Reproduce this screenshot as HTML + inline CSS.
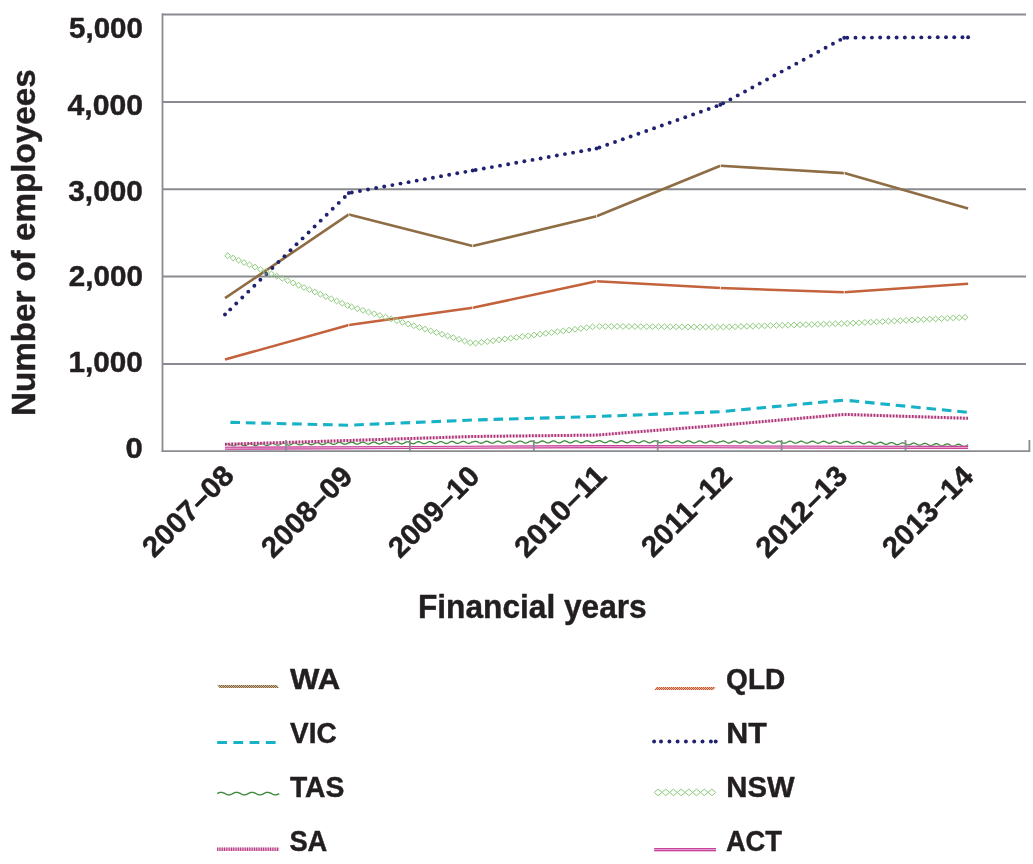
<!DOCTYPE html>
<html><head><meta charset="utf-8"><title>Employees chart</title>
<style>html,body{margin:0;padding:0;background:#fff;} svg{display:block;}</style>
</head><body>
<svg width="1033" height="864" viewBox="0 0 1033 864">
<rect width="1033" height="864" fill="#fff"/>
<defs><pattern id="pWA" patternUnits="userSpaceOnUse" width="2" height="2"><rect width="2" height="2" fill="#cdb899"/><rect width="1" height="1" fill="#85643b"/><rect x="1" y="1" width="1" height="1" fill="#85643b"/></pattern><pattern id="pQLD" patternUnits="userSpaceOnUse" width="2" height="2"><rect width="2" height="2" fill="#eab59c"/><rect width="1" height="1" fill="#c2582f"/><rect x="1" y="1" width="1" height="1" fill="#c2582f"/></pattern></defs>
<line x1="162.5" y1="14.5" x2="1026" y2="14.5" stroke="#8a8b90" stroke-width="1.9"/>
<line x1="162.5" y1="102.0" x2="1026" y2="102.0" stroke="#8a8b90" stroke-width="1.9"/>
<line x1="162.5" y1="189.2" x2="1026" y2="189.2" stroke="#8a8b90" stroke-width="1.9"/>
<line x1="162.5" y1="276.5" x2="1026" y2="276.5" stroke="#8a8b90" stroke-width="1.9"/>
<line x1="162.5" y1="364.0" x2="1026" y2="364.0" stroke="#8a8b90" stroke-width="1.9"/>
<line x1="225.00" y1="298.20" x2="348.85" y2="214.40" stroke="#8e6c44" stroke-width="2.6" stroke-linecap="butt"/><line x1="348.85" y1="214.40" x2="472.70" y2="246.10" stroke="#8e6c44" stroke-width="2.6" stroke-linecap="butt"/><line x1="472.70" y1="246.10" x2="596.55" y2="216.20" stroke="#8e6c44" stroke-width="2.6" stroke-linecap="butt"/><line x1="596.55" y1="216.20" x2="720.40" y2="165.80" stroke="#8e6c44" stroke-width="2.6" stroke-linecap="butt"/><line x1="720.40" y1="165.80" x2="844.25" y2="173.10" stroke="#8e6c44" stroke-width="2.6" stroke-linecap="butt"/><line x1="844.25" y1="173.10" x2="968.10" y2="208.60" stroke="#8e6c44" stroke-width="2.6" stroke-linecap="butt"/><line x1="348.40" y1="212.40" x2="349.30" y2="216.40" stroke="#fff" stroke-width="0.7"/><line x1="472.25" y1="244.10" x2="473.15" y2="248.10" stroke="#fff" stroke-width="0.7"/><line x1="596.10" y1="214.20" x2="597.00" y2="218.20" stroke="#fff" stroke-width="0.7"/><line x1="719.95" y1="163.80" x2="720.85" y2="167.80" stroke="#fff" stroke-width="0.7"/><line x1="843.80" y1="171.10" x2="844.70" y2="175.10" stroke="#fff" stroke-width="0.7"/>
<line x1="225.00" y1="359.60" x2="348.85" y2="325.00" stroke="#c4623c" stroke-width="2.6" stroke-linecap="butt"/><line x1="348.85" y1="325.00" x2="472.70" y2="307.80" stroke="#c4623c" stroke-width="2.6" stroke-linecap="butt"/><line x1="472.70" y1="307.80" x2="596.55" y2="281.30" stroke="#c4623c" stroke-width="2.6" stroke-linecap="butt"/><line x1="596.55" y1="281.30" x2="720.40" y2="288.00" stroke="#c4623c" stroke-width="2.6" stroke-linecap="butt"/><line x1="720.40" y1="288.00" x2="844.25" y2="292.30" stroke="#c4623c" stroke-width="2.6" stroke-linecap="butt"/><line x1="844.25" y1="292.30" x2="968.10" y2="283.70" stroke="#c4623c" stroke-width="2.6" stroke-linecap="butt"/><line x1="349.30" y1="323.00" x2="348.40" y2="327.00" stroke="#fff" stroke-width="0.7"/><line x1="473.15" y1="305.80" x2="472.25" y2="309.80" stroke="#fff" stroke-width="0.7"/><line x1="597.00" y1="279.30" x2="596.10" y2="283.30" stroke="#fff" stroke-width="0.7"/><line x1="720.85" y1="286.00" x2="719.95" y2="290.00" stroke="#fff" stroke-width="0.7"/><line x1="844.70" y1="290.30" x2="843.80" y2="294.30" stroke="#fff" stroke-width="0.7"/>
<polyline points="225.00,422.20 348.85,425.20" fill="none" stroke="#17b2c6" stroke-width="3.1" stroke-dasharray="9.6 5.85" stroke-dashoffset="10.05" stroke-linejoin="round"/><polyline points="348.85,425.20 472.70,420.00" fill="none" stroke="#17b2c6" stroke-width="3.1" stroke-dasharray="9.6 5.85" stroke-dashoffset="10.05" stroke-linejoin="round"/><polyline points="472.70,420.00 596.55,416.50" fill="none" stroke="#17b2c6" stroke-width="3.1" stroke-dasharray="9.6 5.85" stroke-dashoffset="10.05" stroke-linejoin="round"/><polyline points="596.55,416.50 720.40,411.70" fill="none" stroke="#17b2c6" stroke-width="3.1" stroke-dasharray="9.6 5.85" stroke-dashoffset="10.05" stroke-linejoin="round"/><polyline points="720.40,411.70 844.25,400.10" fill="none" stroke="#17b2c6" stroke-width="3.1" stroke-dasharray="9.6 5.85" stroke-dashoffset="10.05" stroke-linejoin="round"/><polyline points="844.25,400.10 968.10,412.40" fill="none" stroke="#17b2c6" stroke-width="3.1" stroke-dasharray="9.6 5.85" stroke-dashoffset="10.05" stroke-linejoin="round"/>
<circle cx="225.00" cy="314.50" r="1.95" fill="#1f2270"/><circle cx="230.21" cy="309.39" r="1.95" fill="#1f2270"/><circle cx="236.24" cy="303.47" r="1.95" fill="#1f2270"/><circle cx="242.27" cy="297.56" r="1.95" fill="#1f2270"/><circle cx="248.30" cy="291.64" r="1.95" fill="#1f2270"/><circle cx="254.33" cy="285.73" r="1.95" fill="#1f2270"/><circle cx="260.36" cy="279.81" r="1.95" fill="#1f2270"/><circle cx="266.39" cy="273.89" r="1.95" fill="#1f2270"/><circle cx="272.42" cy="267.98" r="1.95" fill="#1f2270"/><circle cx="278.45" cy="262.06" r="1.95" fill="#1f2270"/><circle cx="284.48" cy="256.15" r="1.95" fill="#1f2270"/><circle cx="290.51" cy="250.23" r="1.95" fill="#1f2270"/><circle cx="296.54" cy="244.32" r="1.95" fill="#1f2270"/><circle cx="302.57" cy="238.40" r="1.95" fill="#1f2270"/><circle cx="308.60" cy="232.49" r="1.95" fill="#1f2270"/><circle cx="314.63" cy="226.57" r="1.95" fill="#1f2270"/><circle cx="320.66" cy="220.65" r="1.95" fill="#1f2270"/><circle cx="326.69" cy="214.74" r="1.95" fill="#1f2270"/><circle cx="332.72" cy="208.82" r="1.95" fill="#1f2270"/><circle cx="338.75" cy="202.91" r="1.95" fill="#1f2270"/><circle cx="344.78" cy="196.99" r="1.95" fill="#1f2270"/><circle cx="348.85" cy="193.00" r="1.95" fill="#1f2270"/><circle cx="351.81" cy="192.46" r="1.95" fill="#1f2270"/><circle cx="359.92" cy="190.99" r="1.95" fill="#1f2270"/><circle cx="368.03" cy="189.52" r="1.95" fill="#1f2270"/><circle cx="376.14" cy="188.04" r="1.95" fill="#1f2270"/><circle cx="384.25" cy="186.57" r="1.95" fill="#1f2270"/><circle cx="392.36" cy="185.09" r="1.95" fill="#1f2270"/><circle cx="400.48" cy="183.62" r="1.95" fill="#1f2270"/><circle cx="408.59" cy="182.15" r="1.95" fill="#1f2270"/><circle cx="416.70" cy="180.67" r="1.95" fill="#1f2270"/><circle cx="424.81" cy="179.20" r="1.95" fill="#1f2270"/><circle cx="432.92" cy="177.73" r="1.95" fill="#1f2270"/><circle cx="441.03" cy="176.25" r="1.95" fill="#1f2270"/><circle cx="449.15" cy="174.78" r="1.95" fill="#1f2270"/><circle cx="457.26" cy="173.31" r="1.95" fill="#1f2270"/><circle cx="465.37" cy="171.83" r="1.95" fill="#1f2270"/><circle cx="472.70" cy="170.50" r="1.95" fill="#1f2270"/><circle cx="475.66" cy="169.97" r="1.95" fill="#1f2270"/><circle cx="483.78" cy="168.53" r="1.95" fill="#1f2270"/><circle cx="491.89" cy="167.09" r="1.95" fill="#1f2270"/><circle cx="500.01" cy="165.65" r="1.95" fill="#1f2270"/><circle cx="508.13" cy="164.21" r="1.95" fill="#1f2270"/><circle cx="516.24" cy="162.77" r="1.95" fill="#1f2270"/><circle cx="524.36" cy="161.32" r="1.95" fill="#1f2270"/><circle cx="532.48" cy="159.88" r="1.95" fill="#1f2270"/><circle cx="540.59" cy="158.44" r="1.95" fill="#1f2270"/><circle cx="548.71" cy="157.00" r="1.95" fill="#1f2270"/><circle cx="556.83" cy="155.56" r="1.95" fill="#1f2270"/><circle cx="564.94" cy="154.11" r="1.95" fill="#1f2270"/><circle cx="573.06" cy="152.67" r="1.95" fill="#1f2270"/><circle cx="581.18" cy="151.23" r="1.95" fill="#1f2270"/><circle cx="589.29" cy="149.79" r="1.95" fill="#1f2270"/><circle cx="596.55" cy="148.50" r="1.95" fill="#1f2270"/><circle cx="599.40" cy="147.50" r="1.95" fill="#1f2270"/><circle cx="607.20" cy="144.74" r="1.95" fill="#1f2270"/><circle cx="615.01" cy="141.99" r="1.95" fill="#1f2270"/><circle cx="622.82" cy="139.23" r="1.95" fill="#1f2270"/><circle cx="630.63" cy="136.48" r="1.95" fill="#1f2270"/><circle cx="638.43" cy="133.72" r="1.95" fill="#1f2270"/><circle cx="646.24" cy="130.97" r="1.95" fill="#1f2270"/><circle cx="654.05" cy="128.21" r="1.95" fill="#1f2270"/><circle cx="661.86" cy="125.46" r="1.95" fill="#1f2270"/><circle cx="669.67" cy="122.70" r="1.95" fill="#1f2270"/><circle cx="677.47" cy="119.95" r="1.95" fill="#1f2270"/><circle cx="685.28" cy="117.19" r="1.95" fill="#1f2270"/><circle cx="693.09" cy="114.44" r="1.95" fill="#1f2270"/><circle cx="700.90" cy="111.68" r="1.95" fill="#1f2270"/><circle cx="708.70" cy="108.93" r="1.95" fill="#1f2270"/><circle cx="716.51" cy="106.17" r="1.95" fill="#1f2270"/><circle cx="720.40" cy="104.80" r="1.95" fill="#1f2270"/><circle cx="723.07" cy="103.35" r="1.95" fill="#1f2270"/><circle cx="730.40" cy="99.38" r="1.95" fill="#1f2270"/><circle cx="737.72" cy="95.42" r="1.95" fill="#1f2270"/><circle cx="745.05" cy="91.45" r="1.95" fill="#1f2270"/><circle cx="752.37" cy="87.48" r="1.95" fill="#1f2270"/><circle cx="759.70" cy="83.51" r="1.95" fill="#1f2270"/><circle cx="767.02" cy="79.54" r="1.95" fill="#1f2270"/><circle cx="774.35" cy="75.57" r="1.95" fill="#1f2270"/><circle cx="781.67" cy="71.60" r="1.95" fill="#1f2270"/><circle cx="789.00" cy="67.64" r="1.95" fill="#1f2270"/><circle cx="796.32" cy="63.67" r="1.95" fill="#1f2270"/><circle cx="803.65" cy="59.70" r="1.95" fill="#1f2270"/><circle cx="810.97" cy="55.73" r="1.95" fill="#1f2270"/><circle cx="818.30" cy="51.76" r="1.95" fill="#1f2270"/><circle cx="825.62" cy="47.79" r="1.95" fill="#1f2270"/><circle cx="832.95" cy="43.82" r="1.95" fill="#1f2270"/><circle cx="840.27" cy="39.85" r="1.95" fill="#1f2270"/><circle cx="844.25" cy="37.70" r="1.95" fill="#1f2270"/><circle cx="847.25" cy="37.69" r="1.95" fill="#1f2270"/><circle cx="855.48" cy="37.65" r="1.95" fill="#1f2270"/><circle cx="863.71" cy="37.62" r="1.95" fill="#1f2270"/><circle cx="871.94" cy="37.59" r="1.95" fill="#1f2270"/><circle cx="880.17" cy="37.55" r="1.95" fill="#1f2270"/><circle cx="888.40" cy="37.52" r="1.95" fill="#1f2270"/><circle cx="896.63" cy="37.49" r="1.95" fill="#1f2270"/><circle cx="904.86" cy="37.46" r="1.95" fill="#1f2270"/><circle cx="913.09" cy="37.42" r="1.95" fill="#1f2270"/><circle cx="921.32" cy="37.39" r="1.95" fill="#1f2270"/><circle cx="929.55" cy="37.36" r="1.95" fill="#1f2270"/><circle cx="937.78" cy="37.32" r="1.95" fill="#1f2270"/><circle cx="946.01" cy="37.29" r="1.95" fill="#1f2270"/><circle cx="954.24" cy="37.26" r="1.95" fill="#1f2270"/><circle cx="962.47" cy="37.22" r="1.95" fill="#1f2270"/><circle cx="968.10" cy="37.20" r="1.95" fill="#1f2270"/>
<path d="M225.00,445.00L225.50,444.71L226.00,444.45L226.49,444.23L226.99,444.07L227.49,443.98L227.99,443.96L228.50,444.03L229.00,444.17L229.50,444.37L230.01,444.62L230.52,444.89L231.02,445.16L231.53,445.41L232.03,445.63L232.53,445.78L233.04,445.87L233.54,445.87L234.04,445.80L234.54,445.65L235.04,445.44L235.53,445.19L236.03,444.91L236.53,444.62L237.03,444.35L237.53,444.11L238.02,443.94L238.52,443.83L239.03,443.80L239.53,443.85L240.03,443.97L240.53,444.16L241.04,444.39L241.55,444.66L242.05,444.93L242.56,445.19L243.06,445.42L243.56,445.59L244.07,445.69L244.57,445.72L245.07,445.66L245.57,445.53L246.07,445.34L246.57,445.09L247.06,444.81L247.56,444.52L248.06,444.25L248.56,444.00L249.06,443.81L249.56,443.68L250.06,443.64L250.56,443.67L251.06,443.77L251.57,443.95L252.07,444.17L252.58,444.43L253.08,444.71L253.59,444.97L254.09,445.21L254.60,445.39L255.10,445.51L255.60,445.55L256.10,445.52L256.60,445.41L257.10,445.23L257.60,444.99L258.10,444.72L258.59,444.43L259.09,444.15L259.59,443.89L260.09,443.69L260.59,443.55L261.09,443.48L261.59,443.49L262.09,443.58L262.60,443.74L263.10,443.95L263.61,444.21L264.11,444.48L264.62,444.75L265.12,444.99L265.63,445.19L266.13,445.33L266.63,445.39L267.13,445.37L267.63,445.28L268.13,445.11L268.63,444.89L269.13,444.62L269.63,444.33L270.12,444.05L270.62,443.79L271.12,443.57L271.62,443.41L272.12,443.32L272.62,443.32L273.12,443.39L273.63,443.53L274.13,443.74L274.64,443.98L275.14,444.26L275.65,444.53L276.15,444.78L276.66,444.99L277.16,445.14L277.66,445.22L278.16,445.22L278.67,445.14L279.16,444.99L279.66,444.78L280.16,444.52L280.66,444.24L281.16,443.95L281.65,443.68L282.15,443.45L282.65,443.28L283.15,443.18L283.65,443.15L284.15,443.20L284.66,443.33L285.16,443.52L285.67,443.76L286.17,444.03L286.68,444.30L287.18,444.56L287.69,444.78L288.19,444.95L288.69,445.05L289.20,445.07L289.70,445.01L290.20,444.87L290.69,444.67L291.19,444.43L291.69,444.15L292.19,443.86L292.68,443.58L293.18,443.34L293.68,443.15L294.18,443.03L294.68,442.99L295.18,443.02L295.69,443.13L296.19,443.31L296.70,443.54L297.20,443.80L297.71,444.08L298.21,444.34L298.72,444.57L299.22,444.75L299.72,444.87L300.23,444.91L300.73,444.87L301.23,444.75L301.73,444.56L302.22,444.33L302.72,444.05L303.22,443.76L303.72,443.48L304.21,443.23L304.71,443.03L305.21,442.89L305.71,442.83L306.22,442.84L306.72,442.94L307.22,443.10L307.73,443.32L308.23,443.58L308.74,443.85L309.24,444.12L309.75,444.36L310.25,444.55L310.76,444.69L311.26,444.74L311.76,444.72L312.26,444.62L312.76,444.45L313.26,444.22L313.75,443.96L314.25,443.67L314.75,443.38L315.25,443.12L315.75,442.91L316.24,442.75L316.74,442.67L317.25,442.67L317.75,442.75L318.25,442.90L318.76,443.10L319.26,443.35L319.77,443.62L320.27,443.90L320.78,444.14L321.28,444.35L321.79,444.50L322.29,444.57L322.79,444.57L323.29,444.49L323.79,444.33L324.29,444.12L324.79,443.86L325.28,443.57L325.78,443.29L326.28,443.02L326.78,442.79L327.28,442.62L327.78,442.52L328.28,442.50L328.78,442.56L329.28,442.69L329.79,442.89L330.29,443.13L330.80,443.40L331.30,443.67L331.81,443.93L332.31,444.15L332.82,444.31L333.32,444.40L333.82,444.42L334.32,444.35L334.82,444.21L335.32,444.01L335.82,443.76L336.32,443.48L336.81,443.19L337.31,442.92L337.81,442.68L338.31,442.49L338.81,442.38L339.31,442.34L339.81,442.38L340.31,442.49L340.82,442.68L341.32,442.91L341.83,443.17L342.33,443.45L342.84,443.71L343.34,443.94L343.85,444.11L344.35,444.22L344.85,444.26L345.35,444.21L345.85,444.09L346.35,443.90L346.85,443.66L347.35,443.39L347.85,443.10L348.34,442.82L348.84,442.57M348.85,443.20L349.35,442.92L349.85,442.66L350.35,442.44L350.85,442.28L351.35,442.19L351.85,442.19L352.35,442.26L352.86,442.40L353.36,442.60L353.86,442.85L354.37,443.13L354.87,443.40L355.37,443.66L355.88,443.88L356.38,444.04L356.88,444.12L357.38,444.13L357.88,444.07L358.38,443.92L358.88,443.72L359.38,443.47L359.88,443.19L360.38,442.90L360.88,442.63L361.38,442.41L361.88,442.23L362.38,442.13L362.88,442.10L363.38,442.15L363.89,442.28L364.39,442.47L364.89,442.71L365.40,442.98L365.90,443.26L366.40,443.52L366.91,443.75L367.41,443.92L367.91,444.03L368.41,444.06L368.91,444.01L369.41,443.88L369.91,443.69L370.41,443.45L370.91,443.17L371.41,442.89L371.91,442.61L372.41,442.37L372.91,442.19L373.41,442.06L373.91,442.02L374.42,442.05L374.92,442.16L375.42,442.34L375.92,442.57L376.43,442.83L376.93,443.11L377.43,443.38L377.94,443.62L378.44,443.81L378.94,443.93L379.44,443.98L379.94,443.95L380.45,443.84L380.95,443.66L381.45,443.43L381.94,443.16L382.44,442.87L382.94,442.60L383.44,442.35L383.94,442.14L384.44,442.00L384.94,441.94L385.45,441.96L385.95,442.05L386.45,442.21L386.95,442.43L387.46,442.69L387.96,442.96L388.46,443.24L388.97,443.48L389.47,443.69L389.97,443.83L390.47,443.89L390.98,443.88L391.48,443.79L391.98,443.63L392.48,443.41L392.98,443.14L393.48,442.86L393.98,442.58L394.47,442.32L394.97,442.10L395.48,441.95L395.98,441.87L396.48,441.86L396.98,441.94L397.48,442.09L397.98,442.29L398.49,442.54L398.99,442.82L399.50,443.09L400.00,443.35L400.50,443.56L401.00,443.72L401.51,443.80L402.01,443.81L402.51,443.74L403.01,443.59L403.51,443.38L404.01,443.13L404.51,442.85L405.01,442.56L405.51,442.30L406.01,442.07L406.51,441.90L407.01,441.80L407.51,441.78L408.01,441.83L408.51,441.96L409.02,442.16L409.52,442.40L410.02,442.67L410.53,442.95L411.03,443.21L411.53,443.44L412.03,443.61L412.54,443.71L413.04,443.73L413.54,443.68L414.04,443.55L414.54,443.35L415.04,443.11L415.54,442.83L416.04,442.55L416.54,442.28L417.04,442.04L417.54,441.85L418.04,441.74L418.54,441.69L419.04,441.73L419.54,441.85L420.05,442.03L420.55,442.26L421.05,442.52L421.56,442.80L422.06,443.07L422.56,443.31L423.07,443.49L423.57,443.61L424.07,443.65L424.57,443.62L425.07,443.50L425.57,443.32L426.07,443.09L426.57,442.82L427.07,442.53L427.57,442.26L428.07,442.01L428.57,441.81L429.07,441.68L429.57,441.62L430.07,441.63L430.57,441.73L431.08,441.90L431.58,442.12L432.08,442.38L432.59,442.66L433.09,442.93L433.59,443.17L434.10,443.37L434.60,443.51L435.10,443.57L435.60,443.55L436.10,443.46L436.60,443.29L437.10,443.07L437.60,442.80L438.10,442.52L438.60,442.24L439.10,441.98L439.60,441.77L440.10,441.62L440.60,441.54L441.10,441.54L441.61,441.62L442.11,441.77L442.61,441.98L443.11,442.23L443.62,442.51L444.12,442.78L444.62,443.04L445.13,443.25L445.63,443.40L446.13,443.48L446.63,443.48L447.13,443.41L447.63,443.26L448.13,443.04L448.63,442.79L449.13,442.51L449.63,442.22L450.13,441.96L450.63,441.73L451.13,441.57L451.63,441.47L452.13,441.45L452.64,441.51L453.14,441.65L453.64,441.85L454.15,442.09L454.65,442.36L455.15,442.64L455.66,442.90L456.16,443.12L456.66,443.29L457.16,443.39L457.66,443.41L458.17,443.35L458.67,443.22L459.17,443.02L459.67,442.77L460.17,442.49L460.66,442.21L461.16,441.94L461.66,441.70L462.16,441.52L462.66,441.41L463.17,441.37L463.67,441.41L464.17,441.53L464.67,441.71L465.18,441.95L465.68,442.22L466.18,442.49L466.69,442.76L467.19,442.99L467.69,443.17L468.19,443.29L468.70,443.33L469.20,443.29L469.70,443.17L470.20,442.99L470.70,442.75L471.20,442.48L471.70,442.19L472.20,441.92L472.70,441.67M472.70,442.30L473.20,442.02L473.70,441.76L474.20,441.54L474.70,441.39L475.20,441.30L475.70,441.29L476.21,441.36L476.71,441.51L477.21,441.71L477.71,441.96L478.22,442.24L478.72,442.52L479.22,442.78L479.72,442.99L480.23,443.15L480.73,443.24L481.23,443.25L481.73,443.19L482.23,443.05L482.73,442.84L483.23,442.59L483.73,442.31L484.23,442.03L484.73,441.76L485.23,441.54L485.73,441.36L486.23,441.26L486.73,441.23L487.24,441.29L487.74,441.41L488.24,441.61L488.74,441.85L489.25,442.12L489.75,442.40L490.25,442.66L490.75,442.89L491.26,443.07L491.76,443.17L492.26,443.20L492.76,443.16L493.26,443.03L493.76,442.84L494.26,442.60L494.76,442.33L495.26,442.04L495.76,441.77L496.26,441.53L496.76,441.34L497.26,441.22L497.77,441.18L498.27,441.21L498.77,441.32L499.27,441.50L499.77,441.73L500.28,442.00L500.78,442.28L501.28,442.55L501.79,442.79L502.29,442.98L502.79,443.10L503.29,443.15L503.79,443.12L504.29,443.01L504.79,442.84L505.29,442.61L505.79,442.34L506.29,442.06L506.79,441.78L507.29,441.53L507.80,441.33L508.30,441.19L508.80,441.13L509.30,441.14L509.80,441.24L510.30,441.40L510.81,441.62L511.31,441.88L511.81,442.16L512.31,442.43L512.82,442.68L513.32,442.88L513.82,443.02L514.32,443.09L514.82,443.08L515.32,442.99L515.83,442.83L516.33,442.61L516.83,442.35L517.33,442.07L517.83,441.79L518.33,441.53L518.83,441.32L519.33,441.16L519.83,441.08L520.33,441.08L520.83,441.15L521.33,441.30L521.84,441.51L522.34,441.76L522.84,442.04L523.34,442.32L523.85,442.57L524.35,442.79L524.85,442.94L525.35,443.03L525.86,443.04L526.36,442.97L526.86,442.82L527.36,442.61L527.86,442.36L528.36,442.08L528.86,441.80L529.36,441.53L529.86,441.31L530.36,441.14L530.86,441.04L531.36,441.02L531.86,441.08L532.36,441.21L532.87,441.40L533.37,441.65L533.87,441.92L534.38,442.20L534.88,442.46L535.38,442.69L535.88,442.86L536.38,442.96L536.89,442.99L537.39,442.94L537.89,442.81L538.39,442.61L538.89,442.37L539.39,442.10L539.89,441.81L540.39,441.54L540.89,441.30L541.39,441.12L541.89,441.00L542.39,440.96L542.89,441.00L543.40,441.12L543.90,441.30L544.40,441.53L544.90,441.80L545.41,442.08L545.91,442.35L546.41,442.58L546.91,442.77L547.42,442.89L547.92,442.94L548.42,442.90L548.92,442.79L549.42,442.61L549.92,442.38L550.42,442.11L550.92,441.82L551.42,441.55L551.92,441.30L552.42,441.10L552.92,440.97L553.42,440.91L553.92,440.93L554.43,441.03L554.93,441.20L555.43,441.42L555.93,441.68L556.44,441.96L556.94,442.23L557.44,442.48L557.94,442.68L558.45,442.81L558.95,442.88L559.45,442.86L559.95,442.77L560.45,442.60L560.95,442.38L561.45,442.12L561.95,441.84L562.45,441.56L562.95,441.30L563.45,441.09L563.95,440.94L564.45,440.86L564.96,440.86L565.46,440.94L565.96,441.10L566.46,441.31L566.97,441.56L567.47,441.84L567.97,442.11L568.47,442.37L568.98,442.58L569.48,442.73L569.98,442.82L570.48,442.82L570.98,442.74L571.48,442.60L571.98,442.39L572.48,442.13L572.98,441.85L573.48,441.57L573.98,441.31L574.48,441.08L574.98,440.92L575.49,440.82L575.99,440.80L576.49,440.86L576.99,441.00L577.49,441.20L578.00,441.44L578.50,441.72L579.00,442.00L579.50,442.26L580.01,442.48L580.51,442.65L581.01,442.75L581.51,442.77L582.01,442.71L582.51,442.58L583.01,442.39L583.51,442.14L584.02,441.86L584.52,441.58L585.02,441.31L585.52,441.08L586.02,440.90L586.52,440.78L587.02,440.75L587.52,440.79L588.02,440.91L588.52,441.09L589.03,441.33L589.53,441.60L590.03,441.88L590.54,442.14L591.04,442.38L591.54,442.56L592.04,442.68L592.54,442.72L593.04,442.68L593.55,442.57L594.05,442.38L594.55,442.15L595.05,441.88L595.55,441.59L596.05,441.32L596.55,441.07M596.55,441.70L597.05,441.42L597.55,441.17L598.06,440.95L598.56,440.80L599.06,440.72L599.56,440.72L600.06,440.79L600.56,440.94L601.06,441.15L601.56,441.40L602.07,441.68L602.57,441.96L603.07,442.22L603.57,442.44L604.07,442.61L604.57,442.70L605.07,442.72L605.57,442.65L606.08,442.52L606.58,442.32L607.08,442.07L607.58,441.79L608.08,441.51L608.59,441.25L609.09,441.03L609.59,440.86L610.09,440.76L610.59,440.74L611.09,440.79L611.59,440.92L612.10,441.12L612.60,441.37L613.10,441.64L613.60,441.92L614.10,442.19L614.60,442.42L615.10,442.60L615.60,442.71L616.10,442.75L616.60,442.70L617.11,442.58L617.61,442.39L618.11,442.16L618.61,441.89L619.11,441.61L619.62,441.34L620.12,441.10L620.62,440.92L621.12,440.80L621.62,440.76L622.12,440.80L622.63,440.91L623.13,441.10L623.63,441.33L624.13,441.60L624.63,441.88L625.13,442.16L625.63,442.40L626.13,442.59L626.63,442.72L627.13,442.77L627.64,442.75L628.14,442.64L628.64,442.47L629.14,442.24L629.64,441.98L630.15,441.70L630.65,441.43L631.15,441.18L631.65,440.98L632.15,440.85L632.65,440.79L633.16,440.81L633.66,440.91L634.16,441.07L634.66,441.30L635.16,441.56L635.66,441.84L636.16,442.12L636.66,442.37L637.16,442.58L637.66,442.72L638.17,442.79L638.67,442.79L639.17,442.70L639.67,442.54L640.17,442.33L640.67,442.07L641.18,441.79L641.68,441.52L642.18,441.26L642.68,441.05L643.18,440.90L643.69,440.82L644.19,440.83L644.69,440.90L645.19,441.06L645.69,441.27L646.19,441.52L646.69,441.80L647.19,442.08L647.69,442.34L648.19,442.56L648.70,442.72L649.20,442.81L649.70,442.82L650.20,442.76L650.70,442.61L651.20,442.41L651.71,442.16L652.21,441.89L652.71,441.61L653.21,441.35L653.71,441.12L654.22,440.96L654.72,440.86L655.22,440.84L655.72,440.91L656.22,441.04L656.72,441.24L657.22,441.49L657.72,441.76L658.22,442.05L658.72,442.31L659.23,442.54L659.73,442.72L660.23,442.82L660.73,442.85L661.23,442.81L661.73,442.68L662.23,442.49L662.74,442.25L663.24,441.98L663.74,441.70L664.24,441.43L664.74,441.20L665.25,441.02L665.75,440.91L666.25,440.87L666.75,440.91L667.25,441.03L667.75,441.21L668.25,441.45L668.75,441.72L669.26,442.01L669.76,442.28L670.26,442.52L670.76,442.71L671.26,442.83L671.76,442.88L672.26,442.85L672.76,442.74L673.27,442.57L673.77,442.34L674.27,442.07L674.77,441.79L675.27,441.52L675.78,441.28L676.28,441.08L676.78,440.95L677.28,440.90L677.78,440.92L678.28,441.02L678.78,441.19L679.28,441.42L679.79,441.68L680.29,441.97L680.79,442.24L681.29,442.49L681.79,442.70L682.29,442.84L682.79,442.90L683.29,442.89L683.79,442.80L684.30,442.64L684.80,442.42L685.30,442.17L685.80,441.89L686.30,441.61L686.81,441.36L687.31,441.15L687.81,441.00L688.31,440.93L688.81,440.94L689.31,441.02L689.82,441.17L690.32,441.39L690.82,441.65L691.32,441.93L691.82,442.21L692.32,442.46L692.82,442.68L693.32,442.84L693.82,442.92L694.32,442.93L694.83,442.86L695.33,442.71L695.83,442.51L696.33,442.26L696.83,441.98L697.34,441.70L697.84,441.44L698.34,441.22L698.84,441.06L699.34,440.97L699.84,440.95L700.35,441.02L700.85,441.16L701.35,441.36L701.85,441.61L702.35,441.89L702.85,442.17L703.35,442.43L703.85,442.66L704.35,442.83L704.85,442.94L705.36,442.96L705.86,442.91L706.36,442.78L706.86,442.59L707.36,442.35L707.86,442.07L708.37,441.79L708.87,441.53L709.37,441.30L709.87,441.12L710.37,441.01L710.88,440.98L711.38,441.02L711.88,441.15L712.38,441.33L712.88,441.57L713.38,441.85L713.88,442.13L714.38,442.40L714.88,442.64L715.38,442.83L715.88,442.95L716.39,442.99L716.89,442.96L717.39,442.84L717.89,442.67L718.39,442.43L718.90,442.17L719.40,441.89L719.90,441.62L720.40,441.37M720.40,442.00L720.90,441.72L721.40,441.47L721.91,441.25L722.41,441.10L722.91,441.02L723.41,441.02L723.91,441.09L724.41,441.24L724.91,441.45L725.41,441.70L725.92,441.98L726.42,442.26L726.92,442.52L727.42,442.74L727.92,442.91L728.42,443.00L728.92,443.02L729.42,442.95L729.93,442.82L730.43,442.62L730.93,442.37L731.43,442.09L731.93,441.81L732.44,441.55L732.94,441.33L733.44,441.16L733.94,441.06L734.44,441.04L734.94,441.09L735.44,441.22L735.95,441.42L736.45,441.67L736.95,441.94L737.45,442.22L737.95,442.49L738.45,442.72L738.95,442.90L739.45,443.01L739.95,443.05L740.45,443.00L740.96,442.88L741.46,442.69L741.96,442.46L742.46,442.19L742.96,441.91L743.47,441.64L743.97,441.40L744.47,441.22L744.97,441.10L745.47,441.06L745.97,441.10L746.48,441.21L746.98,441.40L747.48,441.63L747.98,441.90L748.48,442.18L748.98,442.46L749.48,442.70L749.98,442.89L750.48,443.02L750.98,443.07L751.49,443.05L751.99,442.94L752.49,442.77L752.99,442.54L753.49,442.28L754.00,442.00L754.50,441.73L755.00,441.48L755.50,441.28L756.00,441.15L756.50,441.09L757.01,441.11L757.51,441.21L758.01,441.37L758.51,441.60L759.01,441.86L759.51,442.14L760.01,442.42L760.51,442.67L761.01,442.88L761.51,443.02L762.02,443.09L762.52,443.09L763.02,443.00L763.52,442.84L764.02,442.63L764.52,442.37L765.03,442.09L765.53,441.82L766.03,441.56L766.53,441.35L767.03,441.20L767.54,441.12L768.04,441.13L768.54,441.20L769.04,441.36L769.54,441.57L770.04,441.82L770.54,442.10L771.04,442.38L771.54,442.64L772.04,442.86L772.55,443.02L773.05,443.11L773.55,443.12L774.05,443.06L774.55,442.91L775.05,442.71L775.56,442.46L776.06,442.19L776.56,441.91L777.06,441.65L777.56,441.42L778.07,441.26L778.57,441.16L779.07,441.14L779.57,441.21L780.07,441.34L780.57,441.54L781.07,441.79L781.57,442.06L782.07,442.35L782.57,442.61L783.08,442.84L783.58,443.02L784.08,443.12L784.58,443.15L785.08,443.11L785.58,442.98L786.08,442.79L786.59,442.55L787.09,442.28L787.59,442.00L788.09,441.73L788.59,441.50L789.10,441.32L789.60,441.21L790.10,441.17L790.60,441.21L791.10,441.33L791.60,441.51L792.10,441.75L792.60,442.02L793.11,442.31L793.61,442.58L794.11,442.82L794.61,443.01L795.11,443.13L795.61,443.18L796.11,443.15L796.61,443.04L797.12,442.87L797.62,442.64L798.12,442.37L798.62,442.09L799.12,441.82L799.63,441.58L800.13,441.38L800.63,441.25L801.13,441.20L801.63,441.22L802.13,441.32L802.63,441.49L803.13,441.72L803.64,441.98L804.14,442.27L804.64,442.54L805.14,442.79L805.64,443.00L806.14,443.14L806.64,443.20L807.14,443.19L807.64,443.10L808.15,442.94L808.65,442.72L809.15,442.47L809.65,442.19L810.15,441.91L810.66,441.66L811.16,441.45L811.66,441.30L812.16,441.23L812.66,441.24L813.16,441.32L813.67,441.47L814.17,441.69L814.67,441.95L815.17,442.23L815.67,442.51L816.17,442.76L816.67,442.98L817.17,443.14L817.67,443.22L818.17,443.23L818.68,443.16L819.18,443.01L819.68,442.81L820.18,442.56L820.68,442.28L821.19,442.00L821.69,441.74L822.19,441.52L822.69,441.36L823.19,441.27L823.69,441.25L824.20,441.32L824.70,441.46L825.20,441.66L825.70,441.91L826.20,442.19L826.70,442.47L827.20,442.73L827.70,442.96L828.20,443.13L828.70,443.24L829.21,443.26L829.71,443.21L830.21,443.08L830.71,442.89L831.21,442.65L831.71,442.37L832.22,442.09L832.72,441.83L833.22,441.60L833.72,441.42L834.22,441.31L834.73,441.28L835.23,441.32L835.73,441.45L836.23,441.63L836.73,441.87L837.23,442.15L837.73,442.43L838.23,442.70L838.73,442.94L839.23,443.13L839.73,443.25L840.24,443.29L840.74,443.26L841.24,443.14L841.74,442.97L842.24,442.73L842.75,442.47L843.25,442.19L843.75,441.92L844.25,441.67M844.25,442.30L844.76,442.03L845.27,441.79L845.77,441.59L846.28,441.45L846.78,441.38L847.28,441.39L847.78,441.47L848.28,441.63L848.78,441.85L849.27,442.12L849.77,442.41L850.26,442.70L850.76,442.98L851.25,443.21L851.75,443.38L852.25,443.49L852.75,443.52L853.25,443.46L853.76,443.34L854.26,443.15L854.77,442.91L855.28,442.65L855.79,442.38L856.30,442.13L856.80,441.92L857.31,441.76L857.81,441.67L858.32,441.66L858.82,441.73L859.31,441.88L859.81,442.09L860.30,442.34L860.80,442.63L861.29,442.92L861.79,443.20L862.28,443.45L862.78,443.64L863.28,443.76L863.78,443.80L864.28,443.77L864.79,443.66L865.29,443.48L865.80,443.26L866.31,443.00L866.82,442.73L867.33,442.47L867.83,442.25L868.34,442.08L868.84,441.98L869.35,441.95L869.85,442.00L870.35,442.13L870.84,442.32L871.34,442.57L871.83,442.85L872.33,443.15L872.82,443.43L873.32,443.68L873.81,443.89L874.31,444.03L874.81,444.09L875.31,444.07L875.82,443.98L876.32,443.82L876.83,443.60L877.34,443.35L877.85,443.08L878.36,442.82L878.86,442.59L879.37,442.40L879.87,442.28L880.38,442.24L880.88,442.27L881.38,442.38L881.87,442.56L882.37,442.80L882.86,443.07L883.36,443.37L883.85,443.66L884.35,443.92L884.84,444.13L885.34,444.29L885.84,444.37L886.34,444.37L886.85,444.30L887.35,444.15L887.86,443.94L888.37,443.70L888.88,443.43L889.39,443.17L889.89,442.92L890.40,442.73L890.91,442.59L891.41,442.53L891.91,442.54L892.41,442.64L892.91,442.80L893.40,443.03L893.90,443.29L894.39,443.59L894.89,443.88L895.38,444.15L895.88,444.38L896.37,444.55L896.87,444.65L897.37,444.67L897.88,444.61L898.38,444.48L898.89,444.28L899.40,444.04L899.91,443.78L900.41,443.51L900.92,443.26L901.43,443.06L901.94,442.90L902.44,442.82L902.94,442.82L903.44,442.90L903.94,443.05L904.44,443.26L904.93,443.52L905.42,443.81L905.92,444.10L906.41,444.38L906.91,444.62L907.41,444.80L907.90,444.92L908.41,444.96L908.91,444.92L909.41,444.80L909.92,444.62L910.43,444.39L910.94,444.13L911.44,443.86L911.95,443.61L912.46,443.39L912.97,443.22L913.47,443.12L913.97,443.10L914.47,443.16L914.97,443.29L915.47,443.49L915.96,443.74L916.46,444.03L916.95,444.32L917.45,444.60L917.94,444.86L918.44,445.05L918.94,445.19L919.44,445.24L919.94,445.22L920.44,445.12L920.95,444.95L921.46,444.73L921.97,444.48L922.47,444.21L922.98,443.95L923.49,443.72L924.00,443.54L924.50,443.43L925.00,443.39L925.50,443.43L926.00,443.54L926.50,443.73L927.00,443.97L927.49,444.25L927.98,444.54L928.48,444.83L928.97,445.09L929.47,445.30L929.97,445.45L930.47,445.52L930.97,445.52L931.47,445.44L931.98,445.29L932.49,445.08L932.99,444.83L933.50,444.56L934.01,444.30L934.52,444.06L935.03,443.87L935.53,443.73L936.03,443.68L936.54,443.70L937.04,443.80L937.53,443.97L938.03,444.20L938.52,444.47L939.02,444.76L939.51,445.05L940.01,445.32L940.50,445.55L941.00,445.71L941.50,445.80L942.00,445.82L942.50,445.75L943.01,445.61L943.52,445.42L944.02,445.17L944.53,444.91L945.04,444.64L945.55,444.40L946.06,444.19L946.56,444.05L947.07,443.97L947.57,443.97L948.07,444.06L948.56,444.21L949.06,444.43L949.56,444.69L950.05,444.98L950.54,445.28L951.04,445.55L951.53,445.79L952.03,445.97L952.53,446.08L953.03,446.11L953.53,446.06L954.04,445.94L954.55,445.75L955.05,445.52L955.56,445.26L956.07,444.99L956.58,444.74L957.09,444.52L957.59,444.36L958.10,444.27L958.60,444.26L959.10,444.32L959.60,444.46L960.09,444.66L960.59,444.92L961.08,445.20L961.58,445.50L962.07,445.78L962.57,446.03L963.06,446.22L963.56,446.35L964.06,446.40L964.57,446.37L965.07,446.26L965.58,446.09L966.08,445.87L966.59,445.61L967.10,445.34L967.61,445.08L968.12,444.86" fill="none" stroke="#3b8b3b" stroke-width="1.3"/>
<path d="M224.77,255.73L227.72,252.88L230.67,255.73L227.72,258.58ZM230.22,258.00L233.17,255.15L236.12,258.00L233.17,260.85ZM235.67,260.26L238.62,257.41L241.57,260.26L238.62,263.11ZM241.12,262.53L244.07,259.68L247.02,262.53L244.07,265.38ZM246.57,264.79L249.52,261.94L252.47,264.79L249.52,267.64ZM252.01,267.06L254.96,264.21L257.91,267.06L254.96,269.91ZM257.46,269.32L260.41,266.47L263.36,269.32L260.41,272.17ZM262.91,271.59L265.86,268.74L268.81,271.59L265.86,274.44ZM268.36,273.86L271.31,271.01L274.26,273.86L271.31,276.71ZM273.80,276.12L276.75,273.27L279.70,276.12L276.75,278.97ZM279.25,278.39L282.20,275.54L285.15,278.39L282.20,281.24ZM284.70,280.65L287.65,277.80L290.60,280.65L287.65,283.50ZM290.15,282.92L293.10,280.07L296.05,282.92L293.10,285.77ZM295.60,285.18L298.55,282.33L301.50,285.18L298.55,288.03ZM301.04,287.45L303.99,284.60L306.94,287.45L303.99,290.30ZM306.49,289.71L309.44,286.86L312.39,289.71L309.44,292.56ZM311.94,291.98L314.89,289.13L317.84,291.98L314.89,294.83ZM317.39,294.24L320.34,291.39L323.29,294.24L320.34,297.09ZM322.83,296.51L325.78,293.66L328.73,296.51L325.78,299.36ZM328.28,298.77L331.23,295.92L334.18,298.77L331.23,301.62ZM333.73,301.04L336.68,298.19L339.63,301.04L336.68,303.89ZM339.18,303.30L342.13,300.45L345.08,303.30L342.13,306.15ZM344.63,305.57L347.58,302.72L350.53,305.57L347.58,308.42ZM348.72,306.95L351.67,304.10L354.62,306.95L351.67,309.80ZM354.37,308.66L357.32,305.81L360.27,308.66L357.32,311.51ZM360.02,310.36L362.97,307.51L365.92,310.36L362.97,313.21ZM365.67,312.07L368.62,309.22L371.57,312.07L368.62,314.92ZM371.32,313.78L374.27,310.93L377.22,313.78L374.27,316.63ZM376.96,315.48L379.91,312.63L382.86,315.48L379.91,318.33ZM382.61,317.19L385.56,314.34L388.51,317.19L385.56,320.04ZM388.26,318.89L391.21,316.04L394.16,318.89L391.21,321.74ZM393.91,320.60L396.86,317.75L399.81,320.60L396.86,323.45ZM399.56,322.30L402.51,319.45L405.46,322.30L402.51,325.15ZM405.20,324.01L408.15,321.16L411.10,324.01L408.15,326.86ZM410.85,325.71L413.80,322.86L416.75,325.71L413.80,328.56ZM416.50,327.42L419.45,324.57L422.40,327.42L419.45,330.27ZM422.15,329.13L425.10,326.28L428.05,329.13L425.10,331.98ZM427.80,330.83L430.75,327.98L433.70,330.83L430.75,333.68ZM433.45,332.54L436.40,329.69L439.35,332.54L436.40,335.39ZM439.09,334.24L442.04,331.39L444.99,334.24L442.04,337.09ZM444.74,335.95L447.69,333.10L450.64,335.95L447.69,338.80ZM450.39,337.65L453.34,334.80L456.29,337.65L453.34,340.50ZM456.04,339.36L458.99,336.51L461.94,339.36L458.99,342.21ZM461.69,341.06L464.64,338.21L467.59,341.06L464.64,343.91ZM467.33,342.77L470.28,339.92L473.23,342.77L470.28,345.62ZM472.67,343.09L475.62,340.24L478.57,343.09L475.62,345.94ZM478.52,342.28L481.47,339.43L484.42,342.28L481.47,345.13ZM484.36,341.47L487.31,338.62L490.26,341.47L487.31,344.32ZM490.20,340.66L493.15,337.81L496.10,340.66L493.15,343.51ZM496.05,339.85L499.00,337.00L501.95,339.85L499.00,342.70ZM501.89,339.04L504.84,336.19L507.79,339.04L504.84,341.89ZM507.74,338.22L510.69,335.37L513.64,338.22L510.69,341.07ZM513.58,337.41L516.53,334.56L519.48,337.41L516.53,340.26ZM519.42,336.60L522.37,333.75L525.32,336.60L522.37,339.45ZM525.27,335.79L528.22,332.94L531.17,335.79L528.22,338.64ZM531.11,334.98L534.06,332.13L537.01,334.98L534.06,337.83ZM536.96,334.17L539.91,331.32L542.86,334.17L539.91,337.02ZM542.80,333.36L545.75,330.51L548.70,333.36L545.75,336.21ZM548.64,332.54L551.59,329.69L554.54,332.54L551.59,335.39ZM554.49,331.73L557.44,328.88L560.39,331.73L557.44,334.58ZM560.33,330.92L563.28,328.07L566.23,330.92L563.28,333.77ZM566.17,330.11L569.12,327.26L572.07,330.11L569.12,332.96ZM572.02,329.30L574.97,326.45L577.92,329.30L574.97,332.15ZM577.86,328.49L580.81,325.64L583.76,328.49L580.81,331.34ZM583.71,327.67L586.66,324.82L589.61,327.67L586.66,330.52ZM589.55,326.86L592.50,324.01L595.45,326.86L592.50,329.71ZM596.55,326.32L599.50,323.47L602.45,326.32L599.50,329.17ZM602.45,326.36L605.40,323.51L608.35,326.36L605.40,329.21ZM608.35,326.40L611.30,323.55L614.25,326.40L611.30,329.25ZM614.25,326.43L617.20,323.58L620.15,326.43L617.20,329.28ZM620.15,326.47L623.10,323.62L626.05,326.47L623.10,329.32ZM626.05,326.51L629.00,323.66L631.95,326.51L629.00,329.36ZM631.95,326.55L634.90,323.70L637.85,326.55L634.90,329.40ZM637.85,326.59L640.80,323.74L643.75,326.59L640.80,329.44ZM643.75,326.62L646.70,323.77L649.65,326.62L646.70,329.47ZM649.65,326.66L652.60,323.81L655.55,326.66L652.60,329.51ZM655.55,326.70L658.50,323.85L661.45,326.70L658.50,329.55ZM661.45,326.74L664.40,323.89L667.35,326.74L664.40,329.59ZM667.35,326.78L670.30,323.93L673.25,326.78L670.30,329.63ZM673.25,326.81L676.20,323.96L679.15,326.81L676.20,329.66ZM679.15,326.85L682.10,324.00L685.05,326.85L682.10,329.70ZM685.05,326.89L688.00,324.04L690.95,326.89L688.00,329.74ZM690.95,326.93L693.90,324.08L696.85,326.93L693.90,329.78ZM696.85,326.97L699.80,324.12L702.75,326.97L699.80,329.82ZM702.75,327.01L705.70,324.16L708.65,327.01L705.70,329.86ZM708.65,327.04L711.60,324.19L714.55,327.04L711.60,329.89ZM714.55,327.08L717.50,324.23L720.45,327.08L717.50,329.93ZM720.40,327.01L723.35,324.16L726.30,327.01L723.35,329.86ZM726.30,326.84L729.25,323.99L732.20,326.84L729.25,329.69ZM732.19,326.67L735.14,323.82L738.09,326.67L735.14,329.52ZM738.09,326.50L741.04,323.65L743.99,326.50L741.04,329.35ZM743.99,326.33L746.94,323.48L749.89,326.33L746.94,329.18ZM749.89,326.16L752.84,323.31L755.79,326.16L752.84,329.01ZM755.78,325.99L758.73,323.14L761.68,325.99L758.73,328.84ZM761.68,325.81L764.63,322.96L767.58,325.81L764.63,328.66ZM767.58,325.64L770.53,322.79L773.48,325.64L770.53,328.49ZM773.48,325.47L776.43,322.62L779.38,325.47L776.43,328.32ZM779.37,325.30L782.32,322.45L785.27,325.30L782.32,328.15ZM785.27,325.13L788.22,322.28L791.17,325.13L788.22,327.98ZM791.17,324.96L794.12,322.11L797.07,324.96L794.12,327.81ZM797.07,324.79L800.02,321.94L802.97,324.79L800.02,327.64ZM802.96,324.61L805.91,321.76L808.86,324.61L805.91,327.46ZM808.86,324.44L811.81,321.59L814.76,324.44L811.81,327.29ZM814.76,324.27L817.71,321.42L820.66,324.27L817.71,327.12ZM820.66,324.10L823.61,321.25L826.56,324.10L823.61,326.95ZM826.55,323.93L829.50,321.08L832.45,323.93L829.50,326.78ZM832.45,323.76L835.40,320.91L838.35,323.76L835.40,326.61ZM838.35,323.59L841.30,320.74L844.25,323.59L841.30,326.44ZM844.25,323.35L847.20,320.50L850.15,323.35L847.20,326.20ZM850.14,323.05L853.09,320.20L856.04,323.05L853.09,325.90ZM856.03,322.75L858.98,319.90L861.93,322.75L858.98,325.60ZM861.92,322.45L864.87,319.60L867.82,322.45L864.87,325.30ZM867.82,322.15L870.77,319.30L873.72,322.15L870.77,325.00ZM873.71,321.85L876.66,319.00L879.61,321.85L876.66,324.70ZM879.60,321.55L882.55,318.70L885.50,321.55L882.55,324.40ZM885.49,321.25L888.44,318.40L891.39,321.25L888.44,324.10ZM891.39,320.95L894.34,318.10L897.29,320.95L894.34,323.80ZM897.28,320.65L900.23,317.80L903.18,320.65L900.23,323.50ZM903.17,320.35L906.12,317.50L909.07,320.35L906.12,323.20ZM909.06,320.05L912.01,317.20L914.96,320.05L912.01,322.90ZM914.95,319.75L917.90,316.90L920.85,319.75L917.90,322.60ZM920.85,319.45L923.80,316.60L926.75,319.45L923.80,322.30ZM926.74,319.15L929.69,316.30L932.64,319.15L929.69,322.00ZM932.63,318.85L935.58,316.00L938.53,318.85L935.58,321.70ZM938.52,318.55L941.47,315.70L944.42,318.55L941.47,321.40ZM944.42,318.25L947.37,315.40L950.32,318.25L947.37,321.10ZM950.31,317.95L953.26,315.10L956.21,317.95L953.26,320.80ZM956.20,317.66L959.15,314.81L962.10,317.66L959.15,320.51ZM962.09,317.36L965.04,314.51L967.99,317.36L965.04,320.21Z" fill="none" stroke="#8dcb7b" stroke-width="1.0"/>
<polyline points="225.00,444.30 348.85,440.50 472.70,436.50 596.55,435.10 720.40,425.30 844.25,414.40 968.10,418.30" fill="none" stroke="#e3a6c9" stroke-opacity="0.55" stroke-width="3.0"/><polyline points="225.00,444.30 348.85,440.50 472.70,436.50 596.55,435.10 720.40,425.30 844.25,414.40 968.10,418.30" fill="none" stroke="#ab3575" stroke-width="3.0" stroke-dasharray="1.6 1.6"/>
<polyline points="225.00,448.20 348.85,447.80 472.70,447.20 596.55,446.60 720.40,446.80 844.25,447.20 968.10,447.40" fill="none" stroke="#eebbdb" stroke-width="3.1"/><polyline points="225.00,447.20 348.85,446.80 472.70,446.20 596.55,445.60 720.40,445.80 844.25,446.20 968.10,446.40" fill="none" stroke="#c8429a" stroke-width="1.1"/><polyline points="225.00,449.20 348.85,448.80 472.70,448.20 596.55,447.60 720.40,447.80 844.25,448.20 968.10,448.40" fill="none" stroke="#c8429a" stroke-width="1.1"/>
<line x1="162.5" y1="13.3" x2="162.5" y2="452.09999999999997" stroke="#8a8b90" stroke-width="1.8"/>
<line x1="161.6" y1="451.2" x2="1030.2" y2="451.2" stroke="#8a8b90" stroke-width="1.8"/>
<line x1="286.00" y1="440" x2="286.00" y2="451.2" stroke="#8a8b90" stroke-width="1.8"/>
<line x1="409.90" y1="440" x2="409.90" y2="451.2" stroke="#8a8b90" stroke-width="1.8"/>
<line x1="533.80" y1="440" x2="533.80" y2="451.2" stroke="#8a8b90" stroke-width="1.8"/>
<line x1="657.70" y1="440" x2="657.70" y2="451.2" stroke="#8a8b90" stroke-width="1.8"/>
<line x1="781.60" y1="440" x2="781.60" y2="451.2" stroke="#8a8b90" stroke-width="1.8"/>
<line x1="905.50" y1="440" x2="905.50" y2="451.2" stroke="#8a8b90" stroke-width="1.8"/>
<line x1="1029.40" y1="440" x2="1029.40" y2="451.2" stroke="#8a8b90" stroke-width="1.8"/>
<text transform="translate(142.90,37.70) scale(1.0173,1)" text-anchor="end" font-family="'Liberation Sans', Arial, sans-serif" font-weight="bold" font-size="29" fill="#231f20" stroke="#231f20" stroke-width="0.45" stroke-linejoin="round">5,000</text>
<text transform="translate(142.90,114.80) scale(1.0394,1)" text-anchor="end" font-family="'Liberation Sans', Arial, sans-serif" font-weight="bold" font-size="29" fill="#231f20" stroke="#231f20" stroke-width="0.45" stroke-linejoin="round">4,000</text>
<text transform="translate(142.90,200.70) scale(1.0282,1)" text-anchor="end" font-family="'Liberation Sans', Arial, sans-serif" font-weight="bold" font-size="29" fill="#231f20" stroke="#231f20" stroke-width="0.45" stroke-linejoin="round">3,000</text>
<text transform="translate(142.90,286.20) scale(1.0225,1)" text-anchor="end" font-family="'Liberation Sans', Arial, sans-serif" font-weight="bold" font-size="29" fill="#231f20" stroke="#231f20" stroke-width="0.45" stroke-linejoin="round">2,000</text>
<text transform="translate(142.90,372.20) scale(1.0257,1)" text-anchor="end" font-family="'Liberation Sans', Arial, sans-serif" font-weight="bold" font-size="29" fill="#231f20" stroke="#231f20" stroke-width="0.45" stroke-linejoin="round">1,000</text>
<text transform="translate(142.80,458.40) scale(1.0714,1)" text-anchor="end" font-family="'Liberation Sans', Arial, sans-serif" font-weight="bold" font-size="29" fill="#231f20" stroke="#231f20" stroke-width="0.45" stroke-linejoin="round">0</text>
<text transform="translate(34.70,416.00) rotate(-90) scale(0.9965,1)" text-anchor="start" font-family="'Liberation Sans', Arial, sans-serif" font-weight="bold" font-size="33.3" fill="#231f20" stroke="#231f20" stroke-width="0.45" stroke-linejoin="round">Number of employees</text>
<text transform="translate(235.60,477.30) rotate(-45) scale(1.0215,1)" text-anchor="end" font-family="'Liberation Sans', Arial, sans-serif" font-weight="bold" font-size="29" fill="#231f20" stroke="#231f20" stroke-width="0.45" stroke-linejoin="round">2007–08</text>
<text transform="translate(354.25,478.10) rotate(-45) scale(1.0176,1)" text-anchor="end" font-family="'Liberation Sans', Arial, sans-serif" font-weight="bold" font-size="29" fill="#231f20" stroke="#231f20" stroke-width="0.45" stroke-linejoin="round">2008–09</text>
<text transform="translate(481.35,477.85) rotate(-45) scale(1.0189,1)" text-anchor="end" font-family="'Liberation Sans', Arial, sans-serif" font-weight="bold" font-size="29" fill="#231f20" stroke="#231f20" stroke-width="0.45" stroke-linejoin="round">2009–10</text>
<text transform="translate(608.00,477.30) rotate(-45) scale(1.0379,1)" text-anchor="end" font-family="'Liberation Sans', Arial, sans-serif" font-weight="bold" font-size="29" fill="#231f20" stroke="#231f20" stroke-width="0.45" stroke-linejoin="round">2010–11</text>
<text transform="translate(733.60,478.00) rotate(-45) scale(1.0242,1)" text-anchor="end" font-family="'Liberation Sans', Arial, sans-serif" font-weight="bold" font-size="29" fill="#231f20" stroke="#231f20" stroke-width="0.45" stroke-linejoin="round">2011–12</text>
<text transform="translate(849.20,477.50) rotate(-45) scale(1.0242,1)" text-anchor="end" font-family="'Liberation Sans', Arial, sans-serif" font-weight="bold" font-size="29" fill="#231f20" stroke="#231f20" stroke-width="0.45" stroke-linejoin="round">2012–13</text>
<text transform="translate(975.10,478.05) rotate(-45) scale(1.0160,1)" text-anchor="end" font-family="'Liberation Sans', Arial, sans-serif" font-weight="bold" font-size="29" fill="#231f20" stroke="#231f20" stroke-width="0.45" stroke-linejoin="round">2013–14</text>
<text transform="translate(418.00,618.40) scale(0.9392,1)" text-anchor="start" font-family="'Liberation Sans', Arial, sans-serif" font-weight="bold" font-size="33.7" fill="#231f20" stroke="#231f20" stroke-width="0.45" stroke-linejoin="round">Financial years</text>
<polygon points="217.2,684.9 276.8,684.9 279.3,688.1 219.7,688.1" fill="url(#pWA)"/>
<text transform="translate(290.10,689.00) scale(1.0739,1)" text-anchor="start" font-family="'Liberation Sans', Arial, sans-serif" font-weight="bold" font-size="29" fill="#231f20" stroke="#231f20" stroke-width="0.45" stroke-linejoin="round">WA</text>
<polygon points="656.6,686.9 715.7,686.9 713.2,689.9 654.1,689.9" fill="url(#pQLD)"/>
<text transform="translate(726.10,689.30) scale(0.9661,1)" text-anchor="start" font-family="'Liberation Sans', Arial, sans-serif" font-weight="bold" font-size="29" fill="#231f20" stroke="#231f20" stroke-width="0.45" stroke-linejoin="round">QLD</text>
<polyline points="217.20,742.60 279.20,742.60" fill="none" stroke="#17b2c6" stroke-width="3.0" stroke-dasharray="9.8 6.4" stroke-dashoffset="0" stroke-linejoin="round"/>
<text transform="translate(290.00,743.10) scale(0.9660,1)" text-anchor="start" font-family="'Liberation Sans', Arial, sans-serif" font-weight="bold" font-size="29" fill="#231f20" stroke="#231f20" stroke-width="0.45" stroke-linejoin="round">VIC</text>
<circle cx="654.1" cy="741.5" r="1.95" fill="#1f2270"/><circle cx="661.0" cy="741.5" r="1.95" fill="#1f2270"/><circle cx="669.4" cy="741.5" r="1.95" fill="#1f2270"/><circle cx="677.6" cy="741.5" r="1.95" fill="#1f2270"/><circle cx="685.9" cy="741.5" r="1.95" fill="#1f2270"/><circle cx="694.2" cy="741.5" r="1.95" fill="#1f2270"/><circle cx="702.5" cy="741.5" r="1.95" fill="#1f2270"/><circle cx="710.9" cy="741.5" r="1.95" fill="#1f2270"/><circle cx="715.7" cy="741.5" r="1.95" fill="#1f2270"/>
<text transform="translate(726.30,743.40) scale(1.0492,1)" text-anchor="start" font-family="'Liberation Sans', Arial, sans-serif" font-weight="bold" font-size="29" fill="#231f20" stroke="#231f20" stroke-width="0.45" stroke-linejoin="round">NT</text>
<path d="M217.20,793.60L217.70,793.35L218.20,793.11L218.70,792.89L219.20,792.69L219.70,792.54L220.20,792.43L220.70,792.36L221.20,792.35L221.70,792.39L222.20,792.48L222.70,792.61L223.20,792.79L223.70,792.99L224.20,793.23L224.70,793.47L225.20,793.73L225.70,793.97L226.20,794.21L226.70,794.41L227.20,794.59L227.70,794.72L228.20,794.81L228.70,794.85L229.20,794.84L229.70,794.77L230.20,794.66L230.70,794.51L231.20,794.31L231.70,794.09L232.20,793.85L232.70,793.60L233.20,793.35L233.70,793.11L234.20,792.89L234.70,792.69L235.20,792.54L235.70,792.43L236.20,792.36L236.70,792.35L237.20,792.39L237.70,792.48L238.20,792.61L238.70,792.79L239.20,792.99L239.70,793.23L240.20,793.47L240.70,793.73L241.20,793.97L241.70,794.21L242.20,794.41L242.70,794.59L243.20,794.72L243.70,794.81L244.20,794.85L244.70,794.84L245.20,794.77L245.70,794.66L246.20,794.51L246.70,794.31L247.20,794.09L247.70,793.85L248.20,793.60L248.70,793.35L249.20,793.11L249.70,792.89L250.20,792.69L250.70,792.54L251.20,792.43L251.70,792.36L252.20,792.35L252.70,792.39L253.20,792.48L253.70,792.61L254.20,792.79L254.70,792.99L255.20,793.23L255.70,793.47L256.20,793.73L256.70,793.97L257.20,794.21L257.70,794.41L258.20,794.59L258.70,794.72L259.20,794.81L259.70,794.85L260.20,794.84L260.70,794.77L261.20,794.66L261.70,794.51L262.20,794.31L262.70,794.09L263.20,793.85L263.70,793.60L264.20,793.35L264.70,793.11L265.20,792.89L265.70,792.69L266.20,792.54L266.70,792.43L267.20,792.36L267.70,792.35L268.20,792.39L268.70,792.48L269.20,792.61L269.70,792.79L270.20,792.99L270.70,793.23L271.20,793.47L271.70,793.73L272.20,793.97L272.70,794.21L273.20,794.41L273.70,794.59L274.20,794.72L274.70,794.81L275.20,794.85L275.70,794.84L276.20,794.77L276.70,794.66L277.20,794.51L277.70,794.31L278.20,794.09L278.70,793.85L279.20,793.60" fill="none" stroke="#3b8b3b" stroke-width="1.4"/>
<text transform="translate(289.90,797.20) scale(0.9746,1)" text-anchor="start" font-family="'Liberation Sans', Arial, sans-serif" font-weight="bold" font-size="29" fill="#231f20" stroke="#231f20" stroke-width="0.45" stroke-linejoin="round">TAS</text>
<path d="M654.20,792.40L658.05,789.10L661.90,792.40L658.05,795.70ZM661.90,792.40L665.75,789.10L669.60,792.40L665.75,795.70ZM669.60,792.40L673.45,789.10L677.30,792.40L673.45,795.70ZM677.30,792.40L681.15,789.10L685.00,792.40L681.15,795.70ZM685.00,792.40L688.85,789.10L692.70,792.40L688.85,795.70ZM692.70,792.40L696.55,789.10L700.40,792.40L696.55,795.70ZM700.40,792.40L704.25,789.10L708.10,792.40L704.25,795.70ZM708.10,792.40L711.95,789.10L715.80,792.40L711.95,795.70Z" fill="none" stroke="#8dcb7b" stroke-width="1.0"/>
<text transform="translate(726.30,797.40) scale(1.0092,1)" text-anchor="start" font-family="'Liberation Sans', Arial, sans-serif" font-weight="bold" font-size="29" fill="#231f20" stroke="#231f20" stroke-width="0.45" stroke-linejoin="round">NSW</text>
<polyline points="217.20,849.20 279.20,849.20" fill="none" stroke="#e6b2d0" stroke-opacity="1" stroke-width="3.6"/><polyline points="217.20,849.20 279.20,849.20" fill="none" stroke="#b1307a" stroke-width="3.6" stroke-dasharray="0.9 1.4"/>
<text transform="translate(289.40,851.40) scale(0.9421,1)" text-anchor="start" font-family="'Liberation Sans', Arial, sans-serif" font-weight="bold" font-size="29" fill="#231f20" stroke="#231f20" stroke-width="0.45" stroke-linejoin="round">SA</text>
<polyline points="654.20,849.60 716.00,849.60" fill="none" stroke="#eebbdb" stroke-width="3.1"/><polyline points="654.20,848.60 716.00,848.60" fill="none" stroke="#c8429a" stroke-width="1.1"/><polyline points="654.20,850.60 716.00,850.60" fill="none" stroke="#c8429a" stroke-width="1.1"/>
<text transform="translate(725.90,851.20) scale(0.9426,1)" text-anchor="start" font-family="'Liberation Sans', Arial, sans-serif" font-weight="bold" font-size="29" fill="#231f20" stroke="#231f20" stroke-width="0.45" stroke-linejoin="round">ACT</text>
</svg>
</body></html>
